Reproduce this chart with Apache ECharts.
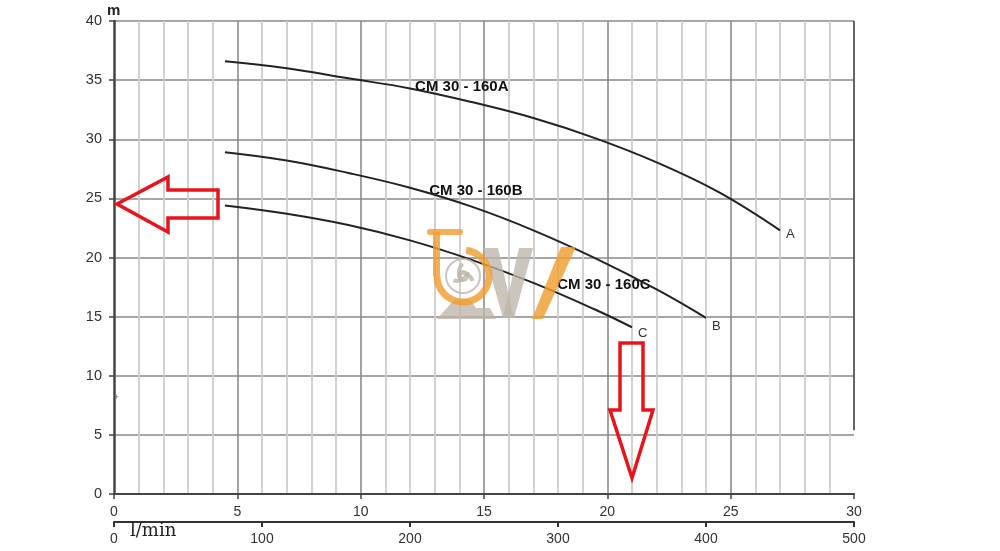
<!DOCTYPE html>
<html>
<head>
<meta charset="utf-8">
<script src="https://cdn.jsdelivr.net/npm/echarts@6/dist/echarts.min.js"></script>
<style>
html,body{margin:0;padding:0;background:#fff;}
#c{width:1000px;height:551px;}
</style>
</head>
<body>
<div id="c"></div>
<script>
// ---- data ----
const flowA = [4.5, 7, 9.5, 12, 14.5, 17, 19.5, 22, 24.5, 27];
const headA = [36.6, 36.0, 35.15, 34.3, 33.15, 31.8, 30.1, 28.05, 25.55, 22.3];
const flowB = [4.5, 7, 9.5, 12, 14.5, 17, 19.5, 22, 24];
const headB = [28.9, 28.2, 27.15, 25.9, 24.3, 22.3, 19.95, 17.3, 14.9];
const flowC = [4.5, 7, 9.5, 12, 14.5, 17, 19.5, 21];
const headC = [24.4, 23.7, 22.75, 21.45, 19.8, 17.85, 15.6, 14.1];
const diamLabels = ['Ø 170', 'Ø 154', 'Ø 142'];
const curveNames = ['CM 30 - 160A', 'CM 30 - 160B', 'CM 30 - 160C'];
const endLetters = ['A', 'B', 'C'];
const xTicksM3h = [0, 5, 10, 15, 20, 25, 30];
const xTicksLmin = [0, 100, 200, 300, 400, 500];
const yTicks = [0, 5, 10, 15, 20, 25, 30, 35, 40];

const FONT = 'Liberation Sans, Arial, sans-serif';
const chart = echarts.init(document.getElementById('c'));

function pairs(xs, ys) { return xs.map((x, i) => [x, ys[i]]); }

function curve(name, xs, ys, diam, letter, endOff, namePos) {
  const d = pairs(xs, ys).map((p, i) => {
    if (i === 0) {
      return { value: p, label: { show: true, position: 'left', distance: 18, formatter: diam,
        color: '#333', fontSize: 12, fontFamily: FONT } };
    }
    return p;
  });
  return {
    type: 'line', name: name, data: d, smooth: 0.4,
    showSymbol: false, symbol: 'none',
    lineStyle: { color: '#222', width: 2 },
    silent: true, animation: false, z: 5,
    endLabel: { show: true, formatter: letter, color: '#333', fontSize: 13, fontFamily: FONT,
      offset: endOff, distance: 4 },
    markPoint: {
      symbol: 'circle', symbolSize: 0, silent: true, animation: false,
      data: [{ coord: namePos, label: { show: true, position: 'inside', formatter: name,
        color: '#111', fontSize: 15, fontWeight: 'bold', fontFamily: FONT } }]
    }
  };
}

const option = {
  animation: false,
  backgroundColor: '#fff',
  grid: { left: 114, right: 146, top: 21, bottom: 57, containLabel: false },
  xAxis: [
    {
      type: 'value', min: 0, max: 30, interval: 5, position: 'bottom',
      axisLine: { show: true, lineStyle: { color: '#444', width: 2 } },
      axisTick: { show: true, length: 5, lineStyle: { color: '#444', width: 1.5 } },
      axisLabel: { color: '#333', fontSize: 14, fontFamily: FONT, margin: 11,
        formatter: v => (xTicksM3h.indexOf(v) >= 0 ? String(v) : '') },
      splitLine: { show: true, showMinLine: false, showMaxLine: false,
        lineStyle: { color: '#858585', width: 1.5 } },
      minorTick: { show: false, splitNumber: 5 },
      minorSplitLine: { show: true, lineStyle: { color: '#cdcdcd', width: 1.8 } }
    },
    {
      type: 'value', min: 0, max: 500, interval: 100, position: 'bottom', offset: 28,
      axisLine: { show: true, onZero: false, lineStyle: { color: '#333', width: 2 } },
      axisTick: { show: true, length: 5, lineStyle: { color: '#333', width: 2 } },
      axisLabel: { color: '#333', fontSize: 14, fontFamily: FONT, margin: 10,
        formatter: v => (xTicksLmin.indexOf(v) >= 0 ? String(v) : '') },
      splitLine: { show: false }
    }
  ],
  yAxis: {
    type: 'value', min: 0, max: 40, interval: 5,
    axisLine: { show: true, lineStyle: { color: '#444', width: 2.5 } },
    axisTick: { show: true, length: 5, lineStyle: { color: '#444', width: 1.5 } },
    axisLabel: { color: '#333', fontSize: 14.5, fontFamily: FONT, margin: 12,
      formatter: v => (yTicks.indexOf(v) >= 0 ? String(v) : '') },
    splitLine: { show: true, showMinLine: false,
      lineStyle: { color: ['#888', '#888', '#888', '#888', '#888', '#888', '#888', '#888', '#4a4a4a'], width: 1.5 } }
  },
  series: [
    curve(curveNames[0], flowA, headA, diamLabels[0], endLetters[0], [2, 4], [14.1, 34.45]),
    curve(curveNames[1], flowB, headB, diamLabels[1], endLetters[1], [2, 9], [14.67, 25.6]),
    curve(curveNames[2], flowC, headC, diamLabels[2], endLetters[2], [2, 6], [19.86, 17.67]),
    {
      // right-hand frame segment
      type: 'line', data: [], silent: true, animation: false,
      markLine: {
        symbol: 'none', silent: true, animation: false, label: { show: false },
        lineStyle: { color: '#555', width: 1.8, type: 'solid' },
        data: [[{ coord: [30, 40] }, { coord: [30, 5.4] }]]
      }
    }
  ]
};
chart.setOption(option);

// ---- annotations (axis unit titles, arrows, logo watermark) ----
const RED = '#e8141c';
const ORANGE = 'rgba(240,158,48,0.82)';
const GRAY = 'rgba(190,181,170,0.78)';
const graphics = [
  // y unit
  { type: 'text', z: 20, x: 107, y: 10.5, style: { text: 'm', font: 'bold 15px "Liberation Sans", Arial, sans-serif', fill: '#222', verticalAlign: 'middle' } },
  // x unit (l/min)
  { type: 'text', z: 20, x: 130, y: 531, style: { text: 'l/min', font: '18px "DejaVu Serif", "Liberation Serif", serif', fill: '#222', verticalAlign: 'middle' } },
  // tiny plus mark
  { type: 'text', z: 20, x: 114, y: 393, style: { text: '+', font: '9px sans-serif', fill: '#777' } },
  // left arrow
  { type: 'polygon', z: 50, shape: { points: [[117, 204], [168, 177], [168, 190], [218, 190], [218, 218], [168, 218], [168, 232]] },
    style: { fill: 'none', stroke: RED, lineWidth: 3.5, lineJoin: 'miter' } },
  // down arrow
  { type: 'polygon', z: 50, shape: { points: [[620, 343], [643, 343], [643, 410], [653, 410], [632, 478], [610, 410], [620, 410]] },
    style: { fill: 'none', stroke: RED, lineWidth: 3.5, lineJoin: 'miter' } },
  // logo watermark: gray pump wheel
  { type: 'circle', z: 30, shape: { cx: 463, cy: 276, r: 17 }, style: { fill: 'none', stroke: GRAY, lineWidth: 2 } },
  { type: 'circle', z: 30, shape: { cx: 463, cy: 276, r: 5 }, style: { fill: 'none', stroke: GRAY, lineWidth: 2 } },
  { type: 'arc', z: 30, shape: { cx: 457, cy: 270, r: 11, startAngle: 0.2, endAngle: 1.9 }, style: { stroke: GRAY, lineWidth: 4, fill: 'none' } },
  { type: 'arc', z: 30, shape: { cx: 470, cy: 272, r: 11, startAngle: 2.3, endAngle: 4.0 }, style: { stroke: GRAY, lineWidth: 4, fill: 'none' } },
  { type: 'arc', z: 30, shape: { cx: 462, cy: 284, r: 11, startAngle: 4.4, endAngle: 6.0 }, style: { stroke: GRAY, lineWidth: 4, fill: 'none' } },
  // gray base under the b
  { type: 'polygon', z: 30, shape: { points: [[437, 319], [455, 299], [470, 299], [476, 308], [490, 308], [496, 319]] }, style: { fill: GRAY } },
  // gray strokes of the w
  { type: 'polygon', z: 30, shape: { points: [[483, 248], [498, 248], [514, 318], [503, 318]] }, style: { fill: GRAY } },
  { type: 'polygon', z: 30, shape: { points: [[503, 318], [514, 318], [533, 248], [519, 248]] }, style: { fill: GRAY } },
  // orange b
  { type: 'rect', z: 31, shape: { x: 427, y: 229, width: 36, height: 6, r: 3 }, style: { fill: ORANGE } },
  { type: 'rect', z: 31, shape: { x: 433, y: 232, width: 7, height: 44 }, style: { fill: ORANGE } },
  { type: 'arc', z: 31, shape: { cx: 463, cy: 276, r: 26, startAngle: -1.45, endAngle: 3.14 }, style: { stroke: ORANGE, lineWidth: 7, fill: 'none' } },
  // orange final stroke of the w
  { type: 'polygon', z: 31, shape: { points: [[532, 319], [543, 319], [576, 247], [561, 247]] }, style: { fill: ORANGE } }
];
chart.setOption({ graphic: graphics });
</script>
</body>
</html>
